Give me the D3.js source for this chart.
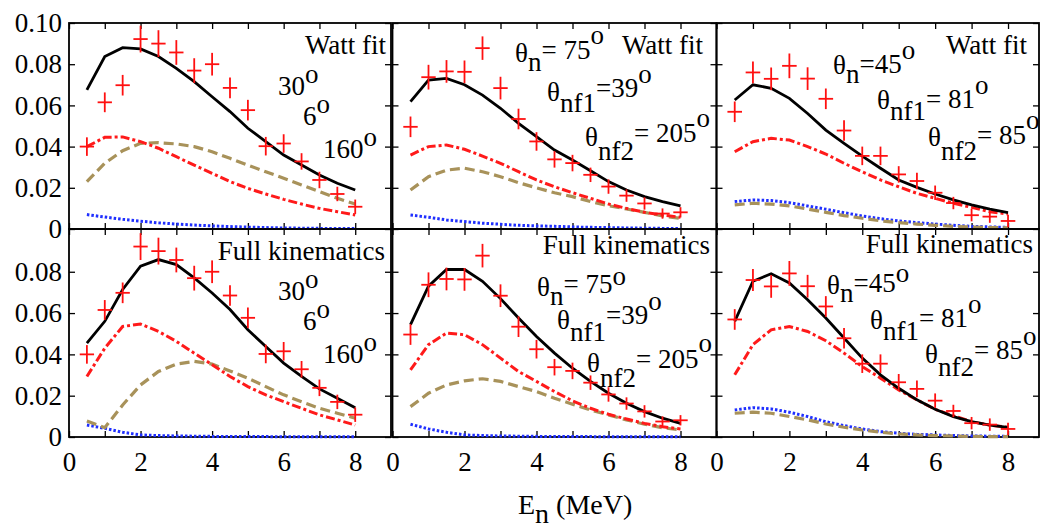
<!DOCTYPE html>
<html>
<head>
<meta charset="utf-8">
<script src="https://cdn.jsdelivr.net/npm/d3@7"></script>
<style>
  body { margin: 0; background: #fff; }
  svg text { font-family: "Liberation Serif", "Times New Roman", Times, "DejaVu Serif", serif !important; fill: #000; }
</style>
</head>
<body>
<svg id="chart"></svg>
<script>
// neutron energies (MeV), same grid for every curve and data set
const energies = [0.5, 1, 1.5, 2, 2.5, 3, 3.5, 4, 4.5, 5, 5.5, 6, 6.5, 7, 7.5, 8]

// measured points (shared by Watt fit / full kinematics rows)
const expt30 = [0.040, 0.0615, 0.0698, 0.0922, 0.090, 0.0857, 0.0769, 0.080, 0.0685, 0.0577, 0.0402, 0.0415, 0.0328, 0.0238, 0.017, 0.0108]
const err30  = [0.0045, 0.0048, 0.005, 0.0065, 0.0065, 0.006, 0.006, 0.0055, 0.005, 0.005, 0.0045, 0.0045, 0.004, 0.004, 0.0035, 0.0035]
const expt75 = [0.0496, 0.0737, 0.0765, 0.0763, 0.0878, 0.0684, 0.0534, 0.0425, 0.0338, 0.032, 0.0263, 0.0206, 0.0162, 0.0124, 0.0075, 0.0081]
const err75  = [0.005, 0.006, 0.0055, 0.0055, 0.0057, 0.0055, 0.005, 0.0045, 0.004, 0.004, 0.0035, 0.0035, 0.003, 0.003, 0.0025, 0.0025]
const expt45 = [0.0569, 0.076, 0.0729, 0.0792, 0.073, 0.0632, 0.0478, 0.0355, 0.0355, 0.0265, 0.0233, 0.0176, 0.0126, 0.0067, 0.006, 0.0039]
const err45  = [0.005, 0.0053, 0.0055, 0.006, 0.0055, 0.005, 0.005, 0.0045, 0.0045, 0.004, 0.004, 0.0035, 0.003, 0.003, 0.003, 0.003]

// Watt fit row
const watt30Total   = [0.0675, 0.0837, 0.088, 0.0874, 0.0837, 0.078, 0.0715, 0.0642, 0.057, 0.0489, 0.0424, 0.0359, 0.0311, 0.0262, 0.0222, 0.0189]
const watt30DashDot = [0.040, 0.0445, 0.0447, 0.0424, 0.0392, 0.0351, 0.031, 0.027, 0.023, 0.0197, 0.017, 0.0144, 0.0121, 0.010, 0.0084, 0.0068]
const watt30Dashed  = [0.023, 0.0319, 0.038, 0.0416, 0.0419, 0.0413, 0.040, 0.0375, 0.0343, 0.031, 0.0278, 0.0246, 0.0214, 0.0181, 0.0149, 0.0121]
const watt30Dotted  = [0.007, 0.0058, 0.0047, 0.0038, 0.003, 0.0024, 0.0019, 0.0015, 0.0012, 0.0009, 0.0007, 0.0005, 0.0004, 0.0003, 0.0002, 0.0002]

const watt75Total   = [0.0618, 0.0723, 0.0731, 0.070, 0.065, 0.0586, 0.0513, 0.0448, 0.0383, 0.0335, 0.0283, 0.023, 0.0189, 0.0157, 0.0133, 0.0112]
const watt75DashDot = [0.0359, 0.040, 0.0408, 0.0387, 0.0354, 0.0319, 0.0278, 0.0238, 0.0205, 0.0176, 0.0149, 0.0121, 0.010, 0.0081, 0.0068, 0.0057]
const watt75Dashed  = [0.0189, 0.0254, 0.0286, 0.0295, 0.0278, 0.0254, 0.0225, 0.020, 0.0176, 0.0157, 0.0133, 0.0113, 0.0097, 0.0081, 0.0063, 0.0052]
const watt75Dotted  = [0.0068, 0.0057, 0.0044, 0.0036, 0.0028, 0.0023, 0.0018, 0.0015, 0.0013, 0.001, 0.0008, 0.0007, 0.0005, 0.0004, 0.0003, 0.0003]

const watt45Total   = [0.0626, 0.070, 0.0683, 0.0634, 0.0561, 0.048, 0.0416, 0.0354, 0.0295, 0.0238, 0.0202, 0.017, 0.0141, 0.0117, 0.0096, 0.0079]
const watt45DashDot = [0.0375, 0.0424, 0.044, 0.0432, 0.040, 0.0364, 0.0319, 0.0278, 0.0238, 0.0205, 0.0173, 0.0149, 0.0125, 0.0105, 0.0084, 0.0073]
const watt45Dashed  = [0.0117, 0.0125, 0.0121, 0.0112, 0.0097, 0.0081, 0.0065, 0.0052, 0.004, 0.0031, 0.0024, 0.0018, 0.0013, 0.001, 0.0007, 0.0006]
const watt45Dotted  = [0.0133, 0.0141, 0.0138, 0.0128, 0.0112, 0.0096, 0.0079, 0.0063, 0.005, 0.0039, 0.0031, 0.0024, 0.0018, 0.0013, 0.001, 0.0008]

// Full kinematics row
const full30Total   = [0.0455, 0.056, 0.0714, 0.0827, 0.0859, 0.0835, 0.077, 0.0697, 0.0617, 0.0519, 0.0438, 0.0358, 0.0293, 0.0233, 0.0188, 0.0142]
const full30DashDot = [0.0293, 0.043, 0.0535, 0.0547, 0.0511, 0.0463, 0.0406, 0.035, 0.0293, 0.0244, 0.0204, 0.0171, 0.0139, 0.0107, 0.0083, 0.0058]
const full30Dashed  = [0.0078, 0.0045, 0.0155, 0.0252, 0.0317, 0.0353, 0.0366, 0.0353, 0.032, 0.0285, 0.0244, 0.0204, 0.0171, 0.0139, 0.0115, 0.0091]
const full30Dotted  = [0.0058, 0.0042, 0.0023, 0.001, 0.0007, 0.0005, 0.0004, 0.0003, 0.0003, 0.0002, 0.0002, 0.0001, 0.0001, 0.0001, 0.0001, 0.0001]

const full75Total   = [0.0544, 0.073, 0.0811, 0.0811, 0.0754, 0.067, 0.0576, 0.0487, 0.0406, 0.0333, 0.0269, 0.0212, 0.0163, 0.0123, 0.0091, 0.0066]
const full75DashDot = [0.0325, 0.0447, 0.0503, 0.0495, 0.0447, 0.0382, 0.0317, 0.0269, 0.022, 0.0175, 0.0139, 0.011, 0.0087, 0.0066, 0.005, 0.0039]
const full75Dashed  = [0.0147, 0.0212, 0.0252, 0.0272, 0.0282, 0.0269, 0.0244, 0.022, 0.0188, 0.0159, 0.0131, 0.0107, 0.0083, 0.0062, 0.0045, 0.0034]
const full75Dotted  = [0.0062, 0.0039, 0.0023, 0.001, 0.0007, 0.0005, 0.0004, 0.0003, 0.0003, 0.0002, 0.0002, 0.0001, 0.0001, 0.0001, 0.0001, 0.0001]

const full45Total   = [0.056, 0.0754, 0.079, 0.0746, 0.0665, 0.0576, 0.0479, 0.0382, 0.0301, 0.0236, 0.018, 0.0134, 0.0099, 0.0074, 0.0058, 0.0047]
const full45DashDot = [0.0301, 0.0447, 0.0519, 0.0535, 0.0511, 0.0466, 0.0406, 0.0341, 0.0285, 0.0228, 0.018, 0.0134, 0.0103, 0.0074, 0.0058, 0.0047]
const full45Dashed  = [0.0115, 0.012, 0.0115, 0.0099, 0.0083, 0.0063, 0.0047, 0.0034, 0.0023, 0.0015, 0.001, 0.0007, 0.0005, 0.0003, 0.0002, 0.0002]
const full45Dotted  = [0.0131, 0.0142, 0.0136, 0.012, 0.0099, 0.0074, 0.0055, 0.0039, 0.0026, 0.0018, 0.0013, 0.001, 0.0007, 0.0005, 0.0004, 0.0003]

const xTicks = [0, 1, 2, 3, 4, 5, 6, 7, 8]
const yTicksTop = [0, 0.02, 0.04, 0.06, 0.08, 0.10]
const yTicksBottom = [0, 0.02, 0.04, 0.06, 0.08]
const xErr = 0.2

// layout
const W = 1041, H = 529
const FONT = '"Liberation Serif", "Times New Roman", Times, "DejaVu Serif", serif'
const cols = [
    {left: 69, right: 391, xMax: 9},
    {left: 392.5, right: 716.5, xMax: 9},
    {left: 716.5, right: 1039, xMax: 8.85}
]
const rows = [
    {top: 23, bottom: 229, yMax: 0.1},
    {top: 229, bottom: 437, yMax: 0.1007}
]

const styles = {
    dotted:  {stroke: '#1f2fff', width: 3, dash: '2.5,2'},
    dashed:  {stroke: '#a8925a', width: 3.2, dash: '10,5'},
    dashDot: {stroke: '#ff1a1a', width: 3, dash: '9,3,3,3'},
    total:   {stroke: '#000', width: 2.8, dash: null}
}

// annotation parts: [text, baseline offset]
const noteAngles30 = (y0) => [
    {x: 278, y: y0, parts: [['30', 0], ['o', -12]]},
    {x: 303, y: y0 + 30, parts: [['6', 0], ['o', -12]]},
    {x: 323, y: y0 + 63, parts: [['160', 0], ['o', -12]]}
]

const panels = [
    {row: 0, col: 0, expt: expt30, err: err30,
     curves: {dotted: watt30Dotted, dashed: watt30Dashed, dashDot: watt30DashDot, total: watt30Total},
     title: {x: 386, y: 54, text: 'Watt fit'},
     notes: noteAngles30(95)},
    {row: 0, col: 1, expt: expt75, err: err75,
     curves: {dotted: watt75Dotted, dashed: watt75Dashed, dashDot: watt75DashDot, total: watt75Total},
     title: {x: 703, y: 54, text: 'Watt fit'},
     notes: [
        {x: 515, y: 62, parts: [['θ', 0], ['n', 9], ['= 75', -3], ['o', -18]]},
        {x: 547, y: 101, parts: [['θ', 0], ['nf1', 11], ['=39', -4], ['o', -18]]},
        {x: 585, y: 146, parts: [['θ', 0], ['nf2', 14], ['= 205', -4], ['o', -19]]}
     ]},
    {row: 0, col: 2, expt: expt45, err: err45,
     curves: {dotted: watt45Dotted, dashed: watt45Dashed, dashDot: watt45DashDot, total: watt45Total},
     title: {x: 1027, y: 54, text: 'Watt fit'},
     notes: [
        {x: 833, y: 74, parts: [['θ', 0], ['n', 9], ['=45', -1], ['o', -15]]},
        {x: 877, y: 109, parts: [['θ', 0], ['nf1', 11], ['= 81', -1], ['o', -15]]},
        {x: 928, y: 146, parts: [['θ', 0], ['nf2', 14], ['= 85', -2], ['o', -17]]}
     ]},
    {row: 1, col: 0, expt: expt30, err: err30,
     curves: {dotted: full30Dotted, dashed: full30Dashed, dashDot: full30DashDot, total: full30Total},
     title: {x: 385, y: 260, text: 'Full kinematics'},
     notes: noteAngles30(300)},
    {row: 1, col: 1, expt: expt75, err: err75,
     curves: {dotted: full75Dotted, dashed: full75Dashed, dashDot: full75DashDot, total: full75Total},
     title: {x: 710, y: 254, text: 'Full kinematics'},
     notes: [
        {x: 537, y: 296, parts: [['θ', 0], ['n', 9], ['= 75', -3], ['o', -11]]},
        {x: 557, y: 329, parts: [['θ', 0], ['nf1', 12], ['=39', -5], ['o', -19]]},
        {x: 587, y: 372, parts: [['θ', 0], ['nf2', 15], ['= 205', -4], ['o', -20]]}
     ]},
    {row: 1, col: 2, expt: expt45, err: err45,
     curves: {dotted: full45Dotted, dashed: full45Dashed, dashDot: full45DashDot, total: full45Total},
     title: {x: 1033, y: 253, text: 'Full kinematics'},
     notes: [
        {x: 827, y: 294, parts: [['θ', 0], ['n', 8], ['=45', -2], ['o', -12]]},
        {x: 870, y: 329, parts: [['θ', 0], ['nf1', 11], ['= 81', -2], ['o', -16]]},
        {x: 925, y: 363, parts: [['θ', 0], ['nf2', 13], ['= 85', -4], ['o', -18]]}
     ]}
]

let svg = d3.select('#chart').attr('width', W).attr('height', H)

function drawNote(g, note, anchor) {
    let t = g.append('text')
        .attr('x', note.x)
        .attr('y', note.y)
        .attr('font-size', 27)
        .attr('font-family', FONT)
        .attr('text-anchor', anchor || 'start')
    let prev = 0
    note.parts.forEach(function(p) {
        t.append('tspan').attr('dy', p[1] - prev).text(p[0])
        prev = p[1]
    })
}

panels.forEach(function(p) {
    let c = cols[p.col], r = rows[p.row]
    let x = d3.scaleLinear().domain([0, c.xMax]).range([c.left, c.right])
    let y = d3.scaleLinear().domain([0, r.yMax]).range([r.bottom, r.top])
    let g = svg.append('g').attr('class', 'panel')
    let yTicks = p.row == 0 ? yTicksTop : yTicksBottom

    // ticks pointing inward on all four sides
    let showX = p.row == 1
    g.append('g')
        .attr('transform', `translate(0,${r.bottom})`)
        .call(d3.axisBottom(x).tickValues(xTicks).tickSize(-6).tickSizeOuter(0).tickPadding(15)
            .tickFormat(d => (showX && d % 2 == 0) ? d : ''))
    g.append('g')
        .attr('transform', `translate(0,${r.top})`)
        .call(d3.axisTop(x).tickValues(xTicks).tickSize(-6).tickSizeOuter(0).tickFormat(''))
    let showY = p.col == 0
    g.append('g')
        .attr('transform', `translate(${c.left},0)`)
        .call(d3.axisLeft(y).tickValues(yTicks).tickSize(-6).tickSizeOuter(0).tickPadding(7)
            .tickFormat(d => !showY ? '' : (d == 0 ? '0' : d3.format('.2f')(d))))
    g.append('g')
        .attr('transform', `translate(${c.right},0)`)
        .call(d3.axisRight(y).tickValues(yTicks).tickSize(-6).tickSizeOuter(0).tickFormat(''))

    g.selectAll('.domain').remove()
    g.selectAll('g').attr('font-family', FONT)
    g.selectAll('.tick line').attr('stroke', '#000').attr('stroke-width', 1.3)
    g.selectAll('.tick text').attr('font-size', 27).attr('font-family', FONT).attr('fill', '#000')

    // frame
    g.append('rect')
        .attr('x', c.left).attr('y', r.top)
        .attr('width', c.right - c.left).attr('height', r.bottom - r.top)
        .attr('fill', 'none').attr('stroke', '#000').attr('stroke-width', 1.8)

    // model curves
    let line = d3.line().x(d => x(d[0])).y(d => y(d[1]))
    ;['dotted', 'dashed', 'dashDot', 'total'].forEach(function(k) {
        let s = styles[k]
        g.append('path')
            .datum(energies.map((e, i) => [e, p.curves[k][i]]))
            .attr('d', line)
            .attr('fill', 'none')
            .attr('stroke', s.stroke)
            .attr('stroke-width', s.width)
            .attr('stroke-dasharray', s.dash)
    })

    // experimental crosses
    let pts = energies.map((e, i) => ({e: e, v: p.expt[i], err: p.err[i]}))
    let cross = g.selectAll('.cross').data(pts).enter().append('g').attr('class', 'cross')
    cross.append('line')
        .attr('x1', d => x(d.e)).attr('x2', d => x(d.e))
        .attr('y1', d => y(d.v - d.err)).attr('y2', d => y(d.v + d.err))
        .attr('stroke', '#ff1010').attr('stroke-width', 1.8)
    cross.append('line')
        .attr('x1', d => x(d.e - xErr)).attr('x2', d => x(d.e + xErr))
        .attr('y1', d => y(d.v)).attr('y2', d => y(d.v))
        .attr('stroke', '#ff1010').attr('stroke-width', 1.8)

    // annotations
    drawNote(g, {x: p.title.x, y: p.title.y, parts: [[p.title.text, 0]]}, 'end')
    p.notes.forEach(n => drawNote(g, n))
})

// x-axis title
let xt = svg.append('text')
    .attr('x', 518)
    .attr('y', 514)
    .attr('font-size', 28)
    .attr('font-family', FONT)
xt.append('tspan').text('E')
xt.append('tspan').attr('dy', 9).text('n')
xt.append('tspan').attr('dy', -9).text(' (MeV)')
</script>
</body>
</html>
